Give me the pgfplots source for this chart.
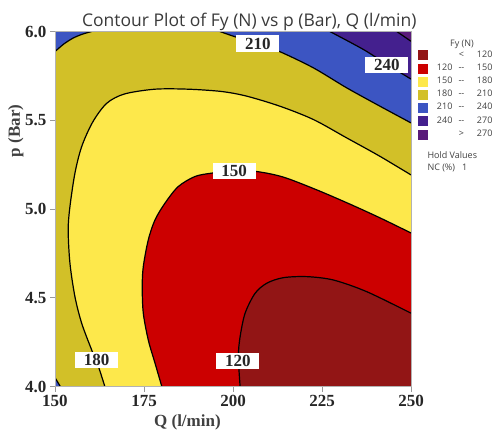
\documentclass[border=0pt]{standalone}
\usepackage{fontspec}
\setmainfont{Liberation Serif}
\newfontfamily\uifont{Open Sans}
\usepackage{pgfplots}
\usepackage{pgfplotstable}
\pgfplotsset{compat=1.18}
\definecolor{cA}{HTML}{921515}
\definecolor{cB}{HTML}{CC0000}
\definecolor{cC}{HTML}{FDE84B}
\definecolor{cD}{HTML}{D2C028}
\definecolor{cE}{HTML}{3C55C2}
\definecolor{cF}{HTML}{44208E}
\definecolor{cG}{HTML}{5A1A7A}
\definecolor{legtext}{HTML}{404040}
\definecolor{titletext}{HTML}{3A3A3A}

% contour lines (Q, p)
\pgfplotstableread{
x y
150 5.887
152.5 5.930
155.1 5.963
157.7 5.985
160.3 6.0
}\ctwoten
\pgfplotstableread{
x y
150 4.05
151.5 4.0
}\ctwotenb
\pgfplotstableread{
x y
196.3 6.0
201.5 5.964
207.0 5.930
213.2 5.886
222.6 5.795
231.9 5.683
241.3 5.579
250 5.485
}\ctwotenc
\pgfplotstableread{
x y
227.2 6.0
236.6 5.899
243.2 5.815
250 5.732
}\ctwoforty
\pgfplotstableread{
x y
246.0 6.0
250 5.945
}\ctwoseventy
\pgfplotstableread{
x y
250 5.192
241.0 5.300
231.9 5.401
222.6 5.504
213.2 5.579
203.8 5.636
196.8 5.662
187.4 5.675
178.1 5.675
169.5 5.648
164.5 5.595
160.6 5.490
157.5 5.352
155.6 5.202
154.2 5.014
153.7 4.882
154.2 4.694
155.6 4.506
157.5 4.356
160.3 4.206
162.2 4.112
164.0 4.0
}\coneeighty
\pgfplotstableread{
x y
250 4.865
241.3 4.950
232.9 5.027
223.5 5.108
214.1 5.180
206.7 5.211
200.3 5.216
194.0 5.202
189.3 5.183
184.6 5.126
180.9 5.033
178.1 4.939
176.2 4.826
174.8 4.675
174.5 4.563
174.8 4.413
176.2 4.262
178.1 4.131
180.0 4.0
}\conefifty
\pgfplotstableread{
x y
250 4.413
237.6 4.534
228.2 4.600
220.7 4.619
214.1 4.613
209.5 4.582
206.2 4.525
203.4 4.413
202.0 4.281
201.5 4.168
202.0 4.0
}\ctwenty

\newcommand\lrow[3]{\makebox[14pt][r]{#1}\makebox[18pt]{#2}\makebox[22pt][r]{#3}}
\newcommand\sw[1]{\addlegendimage{legend image code/.code={\fill[#1] (0pt,-4.5pt) rectangle (9pt,4.5pt);}}}

\begin{document}
\begin{tikzpicture}
\path[use as bounding box] (0pt,0pt) rectangle (495pt,432pt);
\begin{axis}[
  at={(55pt,45.5pt)}, anchor=south west,
  scale only axis, width=356pt, height=355pt,
  xmin=150, xmax=250, ymin=4, ymax=6,
  xtick={150,175,200,225,250},
  ytick={4,4.5,5,5.5,6},
  tick pos=left, tick align=outside,
  major tick length=5pt,
  tick style={draw=gray!80, line width=0.6pt},
  axis line style={draw=gray!60, line width=0.6pt},
  axis on top,
  axis background/.style={fill=cD},
  /pgf/number format/assume math mode=true,
  yticklabel style={/pgf/number format/fixed, /pgf/number format/fixed zerofill, /pgf/number format/precision=1},
  tick label style={font=\fontsize{17}{17}\selectfont\bfseries, text=black!85},
  xlabel={Q (l/min)},
  ylabel={p (Bar)},
  xlabel style={at={(axis description cs:0.372,-0.112)}, anchor=base, font=\fontsize{17}{17}\selectfont\bfseries, text=black!75},
  ylabel style={at={(axis description cs:-0.110,0.72)}, anchor=center, font=\fontsize{17}{17}\selectfont\bfseries, text=black!75},
  legend style={at={(axis description cs:1.0197,0.9465)}, anchor=north west, draw=none, fill=none, inner sep=0pt, outer sep=0pt, row sep=3.8pt, column sep=11pt, font=\uifont\fontsize{9}{9}\selectfont, text=legtext, nodes={inner sep=0pt, text height=6.5pt, text depth=2.5pt}},
  legend cell align=left,
]
\sw{cA}\addlegendentry{\lrow{}{<}{120}}
\sw{cB}\addlegendentry{\lrow{120}{--}{150}}
\sw{cC}\addlegendentry{\lrow{150}{--}{180}}
\sw{cD}\addlegendentry{\lrow{180}{--}{210}}
\sw{cE}\addlegendentry{\lrow{210}{--}{240}}
\sw{cF}\addlegendentry{\lrow{240}{--}{270}}
\sw{cG}\addlegendentry{\lrow{}{>}{270}}

% filled regions
\addplot[forget plot, smooth, fill=cE, draw=none] table {\ctwoten} -- (150,6) -- cycle;
\addplot[forget plot, fill=cE, draw=none] table {\ctwotenb} -- (150,4) -- cycle;
\addplot[forget plot, smooth, fill=cE, draw=none] table {\ctwotenc} -- (250,6) -- cycle;
\addplot[forget plot, smooth, fill=cF, draw=none] table {\ctwoforty} -- (250,6) -- cycle;
\addplot[forget plot, fill=cG, draw=none] table {\ctwoseventy} -- (250,6) -- cycle;
\addplot[forget plot, smooth, fill=cC, draw=none] table {\coneeighty} -- (250,4) -- cycle;
\addplot[forget plot, smooth, fill=cB, draw=none] table {\conefifty} -- (250,4) -- cycle;
\addplot[forget plot, smooth, fill=cA, draw=none] table {\ctwenty} -- (250,4) -- cycle;
% contour lines
\addplot[forget plot, smooth, black, line width=1.2pt] table {\ctwoten};
\addplot[forget plot, black, line width=1.2pt] table {\ctwotenb};
\addplot[forget plot, smooth, black, line width=1.2pt] table {\ctwotenc};
\addplot[forget plot, smooth, black, line width=1.2pt] table {\ctwoforty};
\addplot[forget plot, black, line width=1.2pt] table {\ctwoseventy};
\addplot[forget plot, smooth, black, line width=1.2pt] table {\coneeighty};
\addplot[forget plot, smooth, black, line width=1.2pt] table {\conefifty};
\addplot[forget plot, smooth, black, line width=1.2pt] table {\ctwenty};
% contour labels
\tikzset{clab/.style={fill=white, inner sep=0pt, minimum width=43pt, minimum height=16.5pt, font=\fontsize{17}{17}\selectfont\bfseries, text=black!85}}
\node[clab] at (207.0,5.932) {210};
\node[clab] at (243.2,5.811) {240};
\node[clab] at (200.3,5.215) {150};
\node[clab] at (161.7,4.149) {180};
\node[clab] at (201.4,4.144) {120};
\end{axis}
\node[anchor=base, font=\uifont\fontsize{17.5}{17.5}\selectfont, text=titletext] at (249.3pt,405.3pt) {Contour Plot of Fy (N) vs p (Bar), Q (l/min)};
\node[anchor=base, font=\uifont\fontsize{9}{9}\selectfont, text=legtext] at (462pt,385pt) {Fy (N)};
\node[anchor=base west, font=\uifont\fontsize{9}{9}\selectfont, text=legtext] at (424pt,274pt) {Hold Values};
\node[anchor=base west, font=\uifont\fontsize{9}{9}\selectfont, text=legtext] at (424pt,262pt) {NC (\%)\hspace{7pt}1};
\end{tikzpicture}
\end{document}
